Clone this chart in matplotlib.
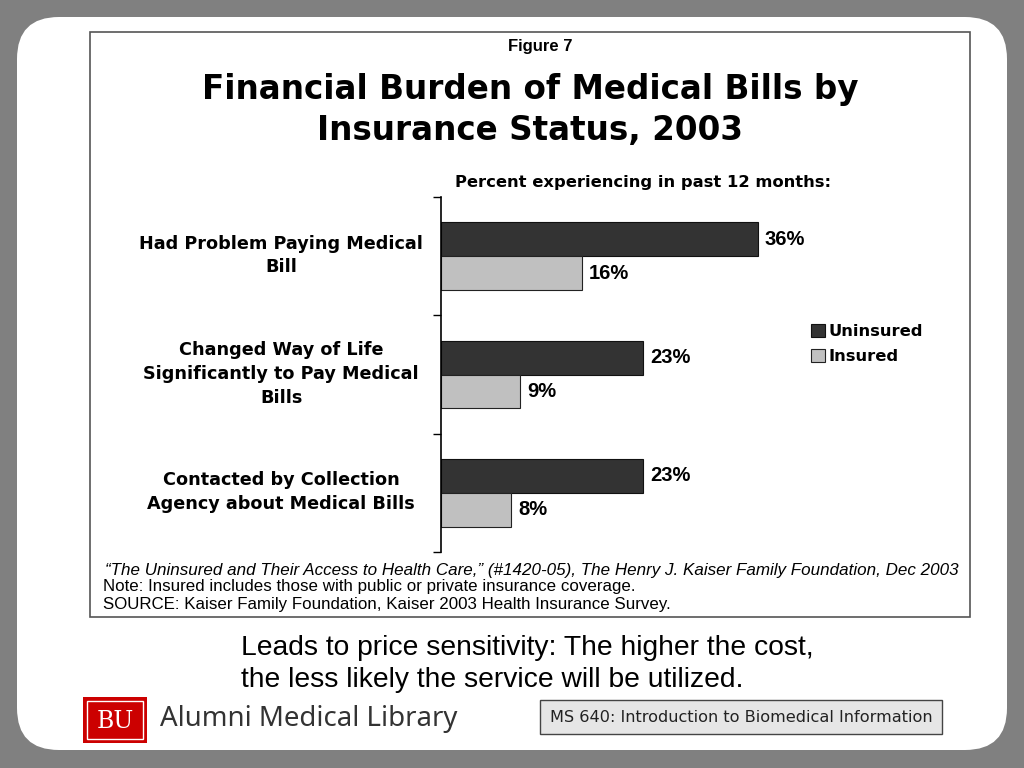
import matplotlib
matplotlib.use("Agg")
import matplotlib.pyplot as plt
from matplotlib.patches import FancyBboxPatch, Rectangle
from matplotlib.transforms import ScaledTranslation

# data
categories = ["Had Problem Paying Medical\nBill",
              "Changed Way of Life\nSignificantly to Pay Medical\nBills",
              "Contacted by Collection\nAgency about Medical Bills"]
uninsured = [36, 23, 23]
insured = [16, 9, 8]
series_names = ["Uninsured", "Insured"]

W, H = 1024, 768
fig = plt.figure(figsize=(W / 100, H / 100), dpi=100, facecolor="#808080")

# full-figure axes in pixel units for the slide decoration
bg = fig.add_axes([0, 0, 1, 1])
bg.set_xlim(0, W)
bg.set_ylim(H, 0)
bg.axis("off")

bg.add_patch(FancyBboxPatch((17, 17), 990, 733, boxstyle="round,pad=0,rounding_size=42",
                            fc="white", ec="none"))
bg.add_patch(Rectangle((90, 32), 880, 585, fc="white", ec="#555555", lw=1.2))

bg.text(540, 46, "Figure 7", ha="center", va="center", fontsize=12,
        fontweight="bold", family="Liberation Sans")
bg.text(530, 110, "Financial Burden of Medical Bills by\nInsurance Status, 2003",
        ha="center", va="center", fontsize=23.5, fontweight="bold",
        family="DejaVu Sans", linespacing=1.33)
bg.text(455, 182, "Percent experiencing in past 12 months:", ha="left", va="center",
        fontsize=11.75, fontweight="bold", family="DejaVu Sans")

bg.text(105, 571, "\u201cThe Uninsured and Their Access to Health Care,\u201d (#1420-05), "
        "The Henry J. Kaiser Family Foundation, Dec 2003",
        ha="left", va="center", fontsize=12.25, style="italic", family="Liberation Sans")
bg.text(103, 586, "Note: Insured includes those with public or private insurance coverage.",
        ha="left", va="center", fontsize=12.15, family="Liberation Sans")
bg.text(103, 604, "SOURCE: Kaiser Family Foundation, Kaiser 2003 Health Insurance Survey.",
        ha="left", va="center", fontsize=12.15, family="Liberation Sans")

bg.text(241, 664, "Leads to price sensitivity: The higher the cost,\n"
        "the less likely the service will be utilized.",
        ha="left", va="center", fontsize=20.3, family="Liberation Sans", linespacing=1.3)

# BU logo + library name
bg.add_patch(Rectangle((83, 697), 64, 46, fc="#cc0000", ec="none"))
bg.add_patch(Rectangle((87, 701), 56, 38, fc="none", ec="white", lw=1))
bg.text(115, 721, "BU", ha="center", va="center", color="white", fontsize=17,
        family="DejaVu Serif")
bg.text(160, 719, "Alumni Medical Library", ha="left", va="center", color="#333333",
        fontsize=19.9, family="Noto Sans")

# course box
bg.add_patch(Rectangle((540, 700), 402, 34, fc="#e6e6e6", ec="#444444", lw=1))
bg.text(741, 717, "MS 640: Introduction to Biomedical Information", ha="center",
        va="center", fontsize=11.6, color="#222222", family="DejaVu Sans")

# bar chart
ax = fig.add_axes([441 / W, 1 - 552 / H, 440 / W, 355 / H])
ax.set_facecolor("none")
h = 0.287
pos = list(range(len(categories)))
b1 = ax.barh([p - h / 2 for p in pos], uninsured, height=h, color="#333333",
             edgecolor="#111111", lw=0.8, label=series_names[0])
b2 = ax.barh([p + h / 2 for p in pos], insured, height=h, color="#c0c0c0",
             edgecolor="#222222", lw=0.8, label=series_names[1])
ax.set_xlim(0, 50)
ax.set_ylim(2.5, -0.5)

for bars, vals in ((b1, uninsured), (b2, insured)):
    for bar, v in zip(bars, vals):
        ax.annotate(f"{v}%", (v, bar.get_y() + bar.get_height() / 2),
                    xytext=(5, 0), textcoords="offset points", va="center",
                    ha="left", fontsize=14.5, fontweight="bold", family="Liberation Sans")

for s in ("top", "right", "bottom"):
    ax.spines[s].set_visible(False)
ax.spines["left"].set_linewidth(1.2)
ax.set_xticks([])
ax.set_yticks(pos)
ax.set_yticklabels(categories, ha="center", fontsize=12.7, fontweight="bold",
                   family="DejaVu Sans", linespacing=1.42)
ax.tick_params(axis="y", which="major", length=0, pad=115)
ax.set_yticks([-0.5, 0.5, 1.5, 2.5], minor=True)
ax.tick_params(axis="y", which="minor", length=6, width=1)
shift = ScaledTranslation(0, 4 / 72, fig.dpi_scale_trans)
for lab in ax.get_yticklabels():
    lab.set_transform(lab.get_transform() + shift)

ax.legend(handles=[b1, b2], loc="upper left", bbox_to_anchor=(803 / W, 1 - 316 / H),
          bbox_transform=fig.transFigure, frameon=False, handlelength=0.85,
          handleheight=0.85, handletextpad=0.2, labelspacing=0.6, borderpad=0,
          prop={"family": "DejaVu Sans", "weight": "bold", "size": 11.8})

fig.savefig("out.png", dpi=100, facecolor=fig.get_facecolor())
